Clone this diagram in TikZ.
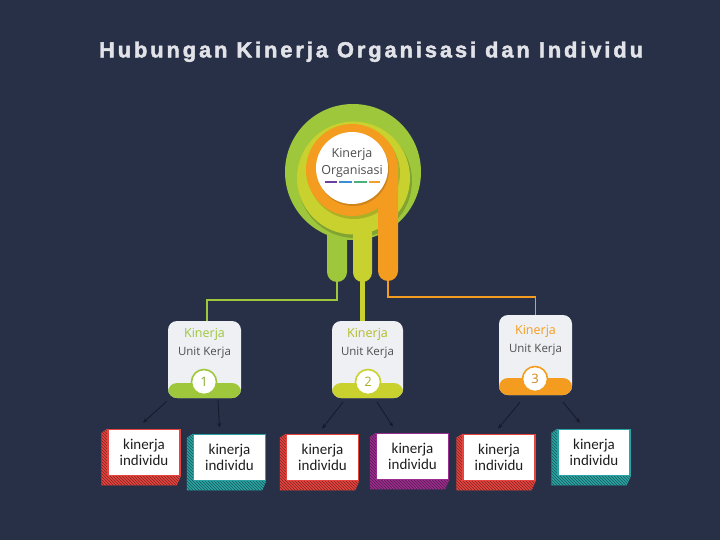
\documentclass[tikz,border=0pt]{standalone}
\usepackage{fontspec}
\setmainfont{Open Sans}
\newfontfamily\titlefont{Liberation Sans Bold}[FakeBold=2.2, LetterSpace=13.5]
\newfontfamily\boxfont{Carlito}
\usetikzlibrary{patterns,calc,arrows.meta}
\definecolor{bgc}{HTML}{273046}
\definecolor{cgreen}{HTML}{9EC73C}
\definecolor{cyellow}{HTML}{C8D12E}
\definecolor{corange}{HTML}{F49C1F}
\definecolor{boxbg}{HTML}{EEF0F4}
\definecolor{txtgray}{HTML}{4E4E4E}
\definecolor{txtdark}{HTML}{1E1E1E}
\definecolor{cred}{HTML}{E5443F}
\definecolor{cteal}{HTML}{2BA3A4}
\definecolor{cpurple}{HTML}{9A2E8E}
\definecolor{titlec}{HTML}{E2E3E8}
\definecolor{arrc}{HTML}{15192A}
\definecolor{dpurple}{HTML}{6A3FA0}
\definecolor{dblue}{HTML}{3A8FD0}
\definecolor{dgreen}{HTML}{4BB07A}
\definecolor{dorange}{HTML}{F0A030}
\pgfdeclarelayer{bg}\pgfdeclarelayer{back}
\pgfsetlayers{bg,back,main}
\tikzset{
  unitbox/.style={fill=boxbg, rounded corners=9pt, inner sep=0pt},
  badge/.style={circle, fill=white, draw=#1, line width=1.6pt, minimum size=25pt, inner sep=0pt, font=\rmfamily\fontsize{13}{13}\selectfont, text=#1!85!black},
  kin/.style={font=\fontsize{12.5}{14}\selectfont, text=#1},
  unit/.style={font=\fontsize{11.5}{13}\selectfont, text=txtgray},
  ind/.style={draw=#1, line width=1.5pt, fill=white, minimum width=72pt, minimum height=46pt, inner sep=0pt, align=center, font=\boxfont\fontsize{15}{16}\selectfont, text=txtdark},
  arr/.style={draw=arrc, line width=0.8pt, -{Stealth[length=5pt,width=4pt]}},
  dash/.style={line width=2pt, draw=#1},
}
\newcommand\myextr[2]{%
  \begin{pgfonlayer}{back}
    \fill[#2] (#1.north west) -- ($(#1.north west)+(-6,4)$) -- ($(#1.south west)+(-6,9)$) -- ($(#1.south east)+(-4,9)$) -- (#1.south east) -- cycle;
    \fill[pattern=north west lines, pattern color=#2!55!black] (#1.north west) -- ($(#1.north west)+(-6,4)$) -- ($(#1.south west)+(-6,9)$) -- ($(#1.south east)+(-4,9)$) -- (#1.south east) -- cycle;
  \end{pgfonlayer}}
\begin{document}
\begin{tikzpicture}[x=1pt,y=-1pt]
\begin{pgfonlayer}{bg}
  \fill[bgc] (0,0) rectangle (720,540);
\end{pgfonlayer}
\useasboundingbox (0,0) rectangle (720,540);

% title
\node[anchor=base, text=titlec, font=\titlefont\fontsize{21.8}{24}\selectfont, inner sep=0pt] (title) at (371,57.3) {Hubungan Kinerja Organisasi dan Individu};

% emblem
\fill[cgreen] (353,172) circle (68);
\fill[cgreen, rounded corners=10pt] (327,190) rectangle (347,282);
\fill[black, opacity=0.18] (355,181) circle (57);
\fill[cyellow] (353.5,178) circle (56.5);
\fill[cyellow, rounded corners=9.5pt] (353,200) rectangle (372,282);
\fill[black, opacity=0.15] (354,173) circle (46);
\fill[corange] (352,170) circle (46);
\fill[corange, rounded corners=10pt] (378,165) rectangle (398,281);
\fill[black, opacity=0.15] (353,170) circle (36);
\fill[white] (352,168) circle (36);
\node[font=\fontsize{12.5}{17}\selectfont, text=txtgray, align=center, inner sep=0pt] (org) at (352,163) {Kinerja\\Organisasi};
\draw[dash=dpurple] (325,182) -- (337,182);
\draw[dash=dblue] (339,182) -- (352,182);
\draw[dash=dgreen] (354,182) -- (367,182);
\draw[dash=dorange] (369,182) -- (380,182);

\coordinate (dg) at (337,280);
\coordinate (dy) at (362.5,280);
\coordinate (do) at (388,279);

% unit boxes
\node[unitbox, minimum width=73pt, minimum height=77pt,
  path picture={\fill[cgreen] ([yshift=15pt]path picture bounding box.south west) rectangle (path picture bounding box.south east);}] (u1) at (204.5,359.5) {};
\node[unitbox, minimum width=71pt, minimum height=77pt,
  path picture={\fill[cyellow] ([yshift=15pt]path picture bounding box.south west) rectangle (path picture bounding box.south east);}] (u2) at (367.5,359.5) {};
\node[unitbox, minimum width=73pt, minimum height=80pt,
  path picture={\fill[corange] ([yshift=17pt]path picture bounding box.south west) rectangle (path picture bounding box.south east);}] (u3) at (535.5,355) {};

\node[kin=cgreen] (t1) at (204.5,334) {Kinerja};
\node[unit] (s1) at (204.5,353) {Unit Kerja};
\node[kin=cyellow!90!black] (t2) at (367.5,334) {Kinerja};
\node[unit] (s2) at (367.5,353) {Unit Kerja};
\node[kin=corange] (t3) at (535.5,331) {Kinerja};
\node[unit] (s3) at (535.5,350) {Unit Kerja};

\node[badge=cgreen] (b1) at (204,382) {1};
\node[badge=cyellow] (b2) at (368,382) {2};
\node[badge=corange] (b3) at (535,379) {3};

% connectors from emblem
\draw[cgreen, line width=2pt] (dg) -- ++(0,20) -| ([xshift=2.5pt]u1.north);
\draw[cyellow, line width=4.5pt] (dy) -- (dy |- u2.north);
\draw[corange, line width=1.5pt] (do) -- ++(0,18) -| (u3.north);

% individual boxes
\node[ind=cred] (k1) at (144,452.5) {kinerja\\individu};
\node[ind=cteal] (k2) at (229.5,457.5) {kinerja\\individu};
\node[ind=cred] (k3) at (322.5,457.5) {kinerja\\individu};
\node[ind=cpurple] (k4) at (412.5,456.5) {kinerja\\individu};
\node[ind=cred] (k5) at (499,457.5) {kinerja\\individu};
\node[ind=cteal] (k6) at (594,452.5) {kinerja\\individu};
\myextr{k1}{cred}
\myextr{k2}{cteal}
\myextr{k3}{cred}
\myextr{k4}{cpurple}
\myextr{k5}{cred}
\myextr{k6}{cteal}

% arrows
\draw[arr] ($(u1.south west)+(-1,3)$) -- ($(k1.north)+(-1,-6)$);
\draw[arr] ($(u1.south)+(13.5,2)$) -- ($(k2.north)+(-10,-6)$);
\draw[arr] ($(u2.south)+(-24.5,4)$) -- ($(k3.north)+(-0.5,-5)$);
\draw[arr] ($(u2.south)+(9.5,4)$) -- ($(k4.north)+(-19.5,-6)$);
\draw[arr] ($(u3.south)+(-15.5,7)$) -- ($(k5.north)+(-1,-5)$);
\draw[arr] ($(u3.south)+(27.5,7)$) -- ($(k6.north)+(-14,-6)$);
\end{tikzpicture}
\end{document}
